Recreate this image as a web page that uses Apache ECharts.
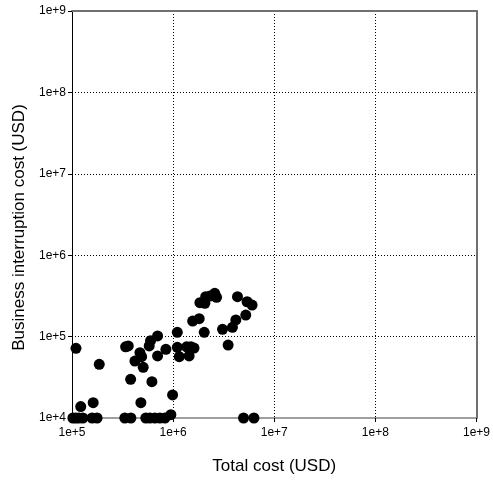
<!DOCTYPE html>
<html>
<head>
<meta charset="utf-8">
<script src="https://cdn.jsdelivr.net/npm/echarts@6/dist/echarts.min.js"></script>
<style>html,body{margin:0;padding:0;background:#fff}#c{width:493px;height:481px}</style>
</head>
<body>
<div id="c"></div>
<script>
var xTicks = [1e5, 1e6, 1e7, 1e8, 1e9];
var yTicks = [1e4, 1e5, 1e6, 1e7, 1e8, 1e9];
var totalCost = [
  1.095e5, 1.22e5, 1.62e5, 1.86e5, 3.39e5, 3.6e5, 3.8e5, 4.19e5, 4.7e5, 4.88e5,
  5.06e5, 4.8e5, 5.8e5, 5.98e5, 6.17e5, 7.02e5, 7.02e5, 8.48e5, 9.88e5, 1.1e6,
  1.1e6, 1.15e6, 1.36e6, 1.5e6, 1.61e6, 1.44e6, 1.56e6, 1.81e6, 2.03e6, 1.84e6,
  2.06e6, 2.1e6, 2.31e6, 2.58e6, 2.69e6, 3.08e6, 3.5e6, 3.86e6, 4.17e6, 4.33e6,
  5.23e6, 5.39e6, 6.04e6,
  1.02e5, 1.09e5, 1.17e5, 1.28e5, 1.58e5, 1.77e5, 3.33e5, 3.82e5, 5.37e5, 5.89e5,
  6.6e5, 7.4e5, 8.3e5, 9.5e5, 4.97e6, 6.3e6
];
var interruptionCost = [
  7.18e4, 1.38e4, 1.54e4, 4.57e4, 7.5e4, 7.67e4, 2.99e4, 5.01e4, 6.34e4, 5.66e4,
  4.2e4, 1.54e4, 7.67e4, 8.9e4, 2.79e4, 1.02e5, 5.78e4, 6.98e4, 1.92e4, 1.13e5,
  7.39e4, 5.66e4, 7.5e4, 7.5e4, 7.24e4, 5.78e4, 1.55e5, 1.66e5, 1.13e5, 2.61e5,
  2.56e5, 3.09e5, 3.15e5, 3.4e5, 3.04e5, 1.23e5, 7.88e4, 1.3e5, 1.6e5, 3.09e5,
  1.84e5, 2.68e5, 2.44e5,
  1e4, 1e4, 1e4, 1e4, 1e4, 1e4, 1e4, 1e4, 1e4, 1e4,
  1e4, 1e4, 1e4, 1.1e4, 1e4, 1e4
];
var points = totalCost.map(function (v, i) { return [v, interruptionCost[i]]; });
var fmt = function (v) { return '1e+' + Math.round(Math.log10(v)); };
var FONT = 'Liberation Sans';
var chart = echarts.init(document.getElementById('c'));
chart.setOption({
  animation: false,
  backgroundColor: '#fff',
  grid: { left: 72, right: 16, top: 11, bottom: 63 },
  xAxis: [{
    type: 'log', logBase: 10, min: xTicks[0], max: xTicks[xTicks.length - 1],
    name: 'Total cost (USD)', nameLocation: 'middle', nameGap: 40,
    nameTextStyle: { fontFamily: FONT, fontSize: 17, color: '#000' },
    axisLine: { lineStyle: { color: '#808080', width: 1.5 } },
    axisTick: { show: true, length: 4, lineStyle: { color: '#000' } },
    axisLabel: { formatter: fmt, fontFamily: FONT, fontSize: 12, color: '#000', margin: 9 },
    splitLine: { show: true, showMinLine: false, showMaxLine: false, lineStyle: { color: '#000', type: [1, 2], width: 1 } }
  }, {
    type: 'log', logBase: 10, min: xTicks[0], max: xTicks[xTicks.length - 1], position: 'top',
    axisLine: { lineStyle: { color: '#707070', width: 2 } },
    axisTick: { show: false }, axisLabel: { show: false }, splitLine: { show: false }
  }],
  yAxis: [{
    type: 'log', logBase: 10, min: yTicks[0], max: yTicks[yTicks.length - 1],
    name: 'Business interruption cost (USD)', nameLocation: 'middle', nameGap: 40,
    nameTextStyle: { fontFamily: FONT, fontSize: 17, color: '#000', padding: [0, 26, 0, 0] },
    axisLine: { lineStyle: { color: '#000', width: 1 } },
    axisTick: { show: true, length: 4, lineStyle: { color: '#000' } },
    axisLabel: { formatter: fmt, fontFamily: FONT, fontSize: 12, color: '#000', margin: 6 },
    splitLine: { show: true, showMinLine: false, showMaxLine: false, lineStyle: { color: '#000', type: [1, 2], width: 1 } }
  }, {
    type: 'log', logBase: 10, min: yTicks[0], max: yTicks[yTicks.length - 1], position: 'right',
    axisLine: { show: true, lineStyle: { color: '#707070', width: 2 } },
    axisTick: { show: false }, axisLabel: { show: false }, splitLine: { show: false }
  }],
  series: [{
    type: 'scatter', xAxisIndex: 0, yAxisIndex: 0,
    data: points, symbol: 'circle', symbolSize: 11,
    itemStyle: { color: '#000', opacity: 1 }, z: 10
  }]
});
</script>
</body>
</html>
